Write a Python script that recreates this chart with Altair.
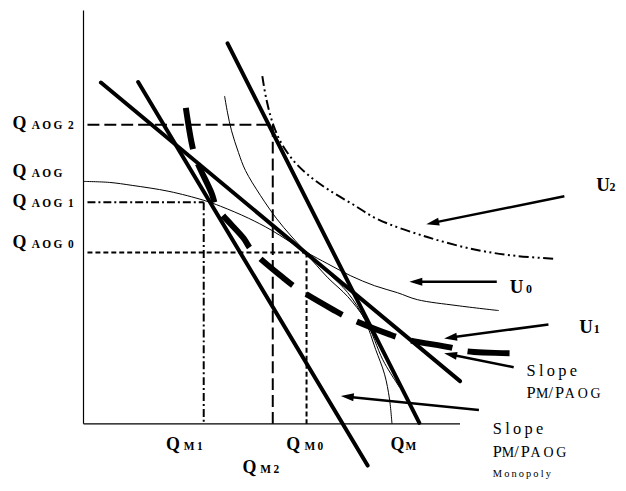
import math
import altair as alt
import pandas as pd

# Diagram coordinates: origin at the corner of the axes (1 unit ~ 1 px)
X_DOM = [-76, 538]
Y_DOM = [-58, 417]
W, H = 614, 475
FONT = "Liberation Serif"

# ---- axes ----
axis_y_x = [0, 0]
axis_y_y = [416, 0]
axis_x_x = [0, 379]
axis_x_y = [0, 0]

# ---- straight thick lines ----
comp_line_x = [17.5, 379]      # slope P_M/P_AOG
comp_line_y = [343.5, 43]
mono_line_x = [55, 286]        # slope P_M/P_AOG monopoly
mono_line_y = [344, -42]
third_line_x = [145, 338]
third_line_y = [383, 1]

# ---- reference levels ----
q_aog2 = 301
q_m2 = 190.5
q_aog1 = 223
q_m1 = 121
q_aog0 = 172.5
q_m0 = 224.5
guide_start = 4

# ---- curves ----
u1_x = [103, 109, 113, 129, 134, 161, 169, 201, 214, 251, 266, 308, 324, 369, 386, 433]
u1_y = [318, 282, 267, 232, 218, 187, 175, 147, 137, 115, 107, 90, 85, 77, 73, 71]

curve_a_x = [0, 26, 49, 86, 121, 138, 166, 189, 224, 246, 269, 293, 316, 336, 376, 418]
curve_a_y = [244, 243, 240, 234, 225, 219, 207, 195, 173, 161, 149, 139, 132, 125, 119, 114]

curve_b_x = [142, 145, 149, 156, 163, 178, 194, 209, 224, 246, 266, 283, 294, 303, 308, 310.5]
curve_b_y = [330, 313, 295, 273, 255, 230, 207, 189, 173, 152, 132, 105, 75, 50, 25, 0]

curve_c_x = [206, 224, 246, 266, 284, 301, 309, 318]
curve_c_y = [187, 171, 147, 128, 104, 65, 51, 37]

u2_x = [180, 184, 191, 200, 213, 228, 246, 271, 296, 346, 396, 436, 476]
u2_y = [350, 327, 301, 281, 263, 249, 236, 221, 206, 188, 175, 169, 166]

# ---- arrows (tail -> tip) ----
arrow_tail_x = [484, 416, 468, 433, 398]
arrow_tail_y = [229, 143, 100, 57, 14]
arrow_tip_x = [345, 328, 363, 363, 259]
arrow_tip_y = [201, 143, 86, 71, 28]

# ---- labels ----
left_q_y = [297, 248, 218, 177]
left_sub = ["A\u2009O\u2009G\u20022", "A\u2009O\u2009G", "A\u2009O\u2009G\u20021", "A\u2009O\u2009G\u20020"]
bottom_q_x = [83, 204, 309, 160]
bottom_q_y = [-26, -26, -26, -49]
bottom_sub_x = [101, 222.5, 324, 178]
bottom_sub = ["M\u20091", "M\u20090", "M", "M\u20092"]
u_x = [516, 429, 499]
u_y = [234, 132, 91]
u_sub_x = [529.5, 445.5, 513.5]
u_sub = ["2", "0", "1"]

XS = alt.Scale(domain=X_DOM, nice=False, zero=False)
YS = alt.Scale(domain=Y_DOM, nice=False, zero=False)


def path_layer(xs, ys, width, dash=None, cap="butt", interp="linear"):
    df = pd.DataFrame({"x": xs, "y": ys, "o": list(range(len(xs)))})
    kw = dict(color="black", strokeWidth=width, strokeCap=cap, interpolate=interp, clip=False)
    if dash:
        kw["strokeDash"] = dash
    return alt.Chart(df).mark_line(**kw).encode(
        x=alt.X("x:Q", scale=XS, axis=None),
        y=alt.Y("y:Q", scale=YS, axis=None),
        order=alt.Order("o:Q"),
    )


def text_layer(xs, ys, texts, size, weight="normal"):
    df = pd.DataFrame({"x": xs, "y": ys, "t": texts})
    return alt.Chart(df).mark_text(
        align="left", baseline="alphabetic", font=FONT, fontSize=size,
        fontWeight=weight, color="black", clip=False,
    ).encode(
        x=alt.X("x:Q", scale=XS, axis=None),
        y=alt.Y("y:Q", scale=YS, axis=None),
        text="t:N",
    )


layers = []
# axes
layers.append(path_layer(axis_y_x, axis_y_y, 1.2))
layers.append(path_layer(axis_x_x, axis_x_y, 1.2))

# guide lines
layers.append(path_layer([guide_start, q_m2], [q_aog2, q_aog2], 2, dash=[12, 5]))
layers.append(path_layer([q_m2, q_m2], [q_aog2, 0], 2, dash=[12, 5]))
layers.append(path_layer([guide_start, q_m1], [q_aog1, q_aog1], 2, dash=[8, 3, 2, 3]))
layers.append(path_layer([q_m1, q_m1], [q_aog1, 0], 2, dash=[8, 3, 2, 3]))
layers.append(path_layer([guide_start, q_m0], [q_aog0, q_aog0], 2, dash=[5, 3]))
layers.append(path_layer([q_m0, q_m0], [q_aog0, 0], 2, dash=[5, 3]))

# thin curves
layers.append(path_layer(curve_a_x, curve_a_y, 1, interp="catmull-rom"))
layers.append(path_layer(curve_b_x, curve_b_y, 1, interp="catmull-rom"))
layers.append(path_layer(curve_c_x, curve_c_y, 1, interp="catmull-rom"))

# U2 dash-dot-dot curve
layers.append(path_layer(u2_x, u2_y, 2, dash=[10, 3.5, 2, 3.5, 2, 3.5], interp="catmull-rom"))

# thick budget lines
layers.append(path_layer(comp_line_x, comp_line_y, 4, cap="round"))
layers.append(path_layer(mono_line_x, mono_line_y, 4, cap="round"))
layers.append(path_layer(third_line_x, third_line_y, 4, cap="round"))

# thick dashed U1
layers.append(path_layer(u1_x, u1_y, 6, dash=[42, 16], interp="catmull-rom"))

# arrows
head_len = 13.0
rows = []
for tx, ty, hx, hy in zip(arrow_tail_x, arrow_tail_y, arrow_tip_x, arrow_tip_y):
    dx, dy = hx - tx, hy - ty
    n = math.hypot(dx, dy)
    ux, uy = dx / n, dy / n
    cx, cy = hx - ux * head_len / 2, hy - uy * head_len / 2
    ang = math.degrees(math.atan2(-dy, dx)) % 360
    rows.append({"tx": tx, "ty": ty, "cx": cx, "cy": cy, "a": ang})
arr = pd.DataFrame(rows)
layers.append(
    alt.Chart(arr).mark_rule(color="black", strokeWidth=2.5).encode(
        x=alt.X("tx:Q", scale=XS, axis=None), y=alt.Y("ty:Q", scale=YS, axis=None),
        x2="cx:Q", y2="cy:Q",
    )
)
layers.append(
    alt.Chart(arr).mark_point(
        shape="M1,0L-1,-0.62L-1,0.62Z", filled=True, size=head_len ** 2,
        color="black", opacity=1, strokeWidth=0,
    ).encode(
        x=alt.X("cx:Q", scale=XS, axis=None), y=alt.Y("cy:Q", scale=YS, axis=None),
        angle=alt.Angle("a:Q", scale=None),
    )
)

# labels
layers.append(text_layer([-71.5] * 4, left_q_y, ["Q"] * 4, 18, "bold"))
layers.append(text_layer([-52] * 4, left_q_y, left_sub, 11.5, "bold"))
layers.append(text_layer(bottom_q_x, bottom_q_y, ["Q"] * 4, 18, "bold"))
layers.append(text_layer(bottom_sub_x, bottom_q_y, bottom_sub, 11.5, "bold"))
layers.append(text_layer(u_x, u_y, ["U"] * 3, 19, "bold"))
layers.append(text_layer(u_sub_x, u_y, u_sub, 12, "bold"))

slope_txt = "\u2009".join("Slope")
aog_txt = "A\u2009O\u2009G"
layers.append(text_layer([446, 412], [48, -10], [slope_txt, slope_txt], 16.5))
layers.append(text_layer([446, 468, 474.5, 412, 433.5, 440], [26, 26, 26, -33, -33, -33],
                         ["P", "/", "P", "P", "/", "P"], 16.5))
layers.append(text_layer([455.5, 484.5, 421, 450], [26, 26, -33, -33],
                         ["M", aog_txt, "M", aog_txt], 14))
layers.append(text_layer([412], [-54], ["\u2009".join("Monopoly")], 10.5))

chart = alt.layer(*layers).properties(
    width=W, height=H,
    autosize=alt.AutoSizeParams(type="none"),
    padding=0,
    background="white",
).configure_view(stroke=None)

chart.save("out.html", embed_options={"renderer": "svg", "actions": False})
